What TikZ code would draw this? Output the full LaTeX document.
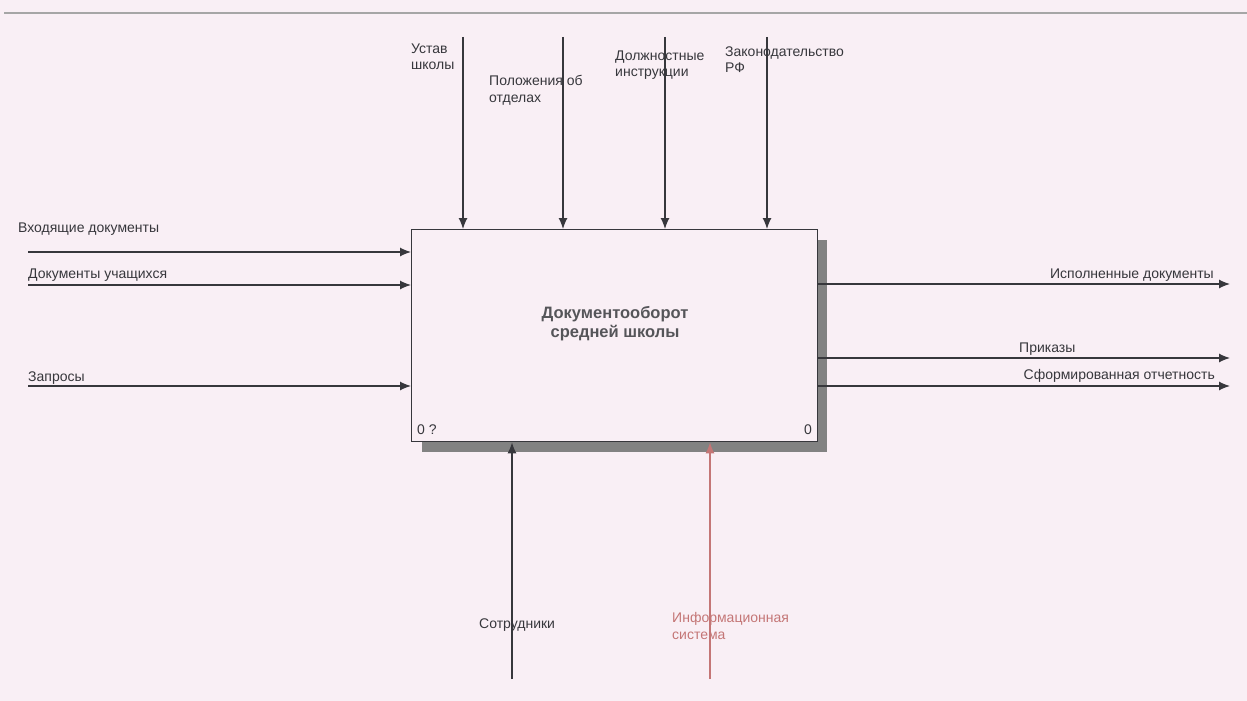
\documentclass[tikz,border=0pt]{standalone}
\usepackage{fontspec}
\setmainfont{Liberation Sans}
\usetikzlibrary{arrows.meta}
\definecolor{paper}{RGB}{249,239,245}
\definecolor{ink}{RGB}{55,55,60}
\definecolor{infocol}{RGB}{196,118,118}
\tikzset{
  lbl/.style={font=\fontsize{14}{17}\selectfont,text=ink,inner sep=0pt,align=left},
  arr/.style={draw=ink,line width=1.2pt,-{Latex[length=11pt,width=9pt]}}
}
\begin{document}
\begin{tikzpicture}[x=1pt,y=-1pt]
\useasboundingbox[fill=paper] (0,0) rectangle (1247,701);
\draw[gray!70,line width=1.2pt] (4,13)--(1247,13);
% block with shadow
\fill[gray!60!black!70] (422,240) rectangle (827,452);
\node[draw=ink,fill=paper,line width=1.4pt,minimum width=406pt,minimum height=212pt,
  inner sep=0pt,anchor=north west] (blk) at (411,229) {};
\node[font=\fontsize{16.5}{19}\selectfont\bfseries,text=ink!85,align=center,inner sep=0pt]
  (title) at (615,324) {Документооборот\\средней школы};
\node[lbl,anchor=base west] (num) at (417,434) {0 ?};
\node[lbl,anchor=base east] (cnum) at (812,434) {0};
% controls
\foreach \cx/\nm in {463/c1,563/c2,665/c3,767/c4}{
  \coordinate (\nm) at (\cx,37);
  \draw[arr] (\nm) -- (\nm |- blk.north);
}
\node[lbl,anchor=base west] (ustav) at (411,70) {Устав\\школы};
\node[lbl,anchor=base west] (polozh) at (489,102) {Положения об\\отделах};
\node[lbl,anchor=base west] (dolzh) at (615,77) {Должностные\\инструкции};
\node[lbl,anchor=base west] (zakon) at (725,73) {Законодательство\\РФ};
% inputs
\foreach \iy/\nm in {252/i1,285/i2,386/i3}{
  \coordinate (\nm) at (28,\iy);
  \draw[arr] (\nm) -- (\nm -| blk.west);
}
\node[lbl,anchor=base west] (vhod) at (18,232) {Входящие документы};
\node[lbl,anchor=base west] (uch) at (28,278) {Документы учащихся};
\node[lbl,anchor=base west] (zapr) at (28,381) {Запросы};
% outputs
\foreach \oy/\nm in {284/o1,358/o2,386/o3}{
  \coordinate (\nm) at (1230,\oy);
  \draw[arr] (\nm -| blk.east) -- (\nm);
}
\node[lbl,anchor=base east] (ispoln) at (1214,278) {Исполненные документы};
\node[lbl,anchor=base west] (prik) at (1019,352) {Приказы};
\node[lbl,anchor=base east] (otch) at (1215,379) {Сформированная отчетность};
% mechanisms
\coordinate (m1) at (512,679);
\coordinate (m2) at (710,679);
\draw[arr] (m1) -- (m1 |- blk.south);
\draw[arr,draw=infocol] (m2) -- (m2 |- blk.south);
\node[lbl,anchor=base west] (sotr) at (479,628) {Сотрудники};
\node[lbl,anchor=base west,text=infocol] (infs) at (672,639) {Информационная\\система};
\end{tikzpicture}
\end{document}
